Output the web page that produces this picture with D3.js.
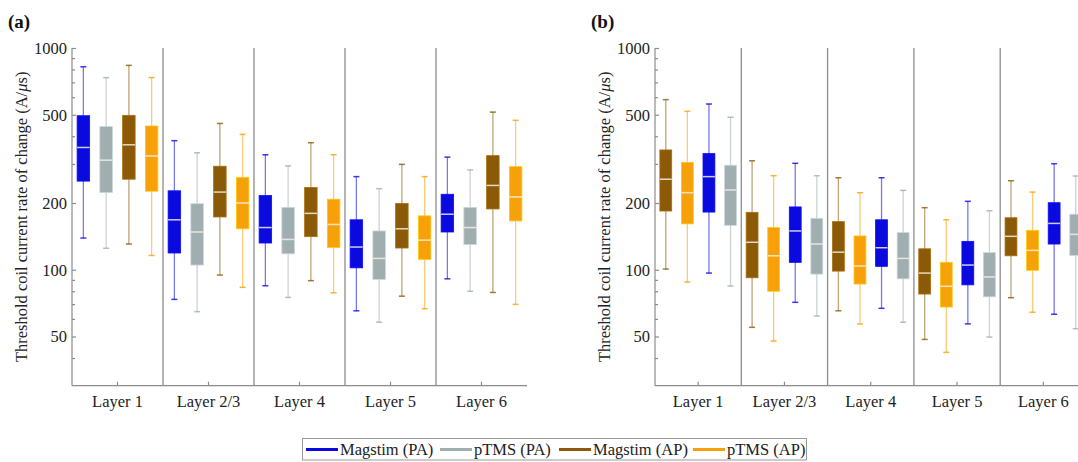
<!DOCTYPE html>
<html lang="en">
<head>
	<meta charset="utf-8">
	<title>Threshold coil current rate of change</title>
	<script src="https://cdn.jsdelivr.net/npm/d3@7"></script>
	<style>
		body { margin: 0; background: #fff; }
		svg { display: block; font-family: "Liberation Serif", "Times New Roman", serif; }
	</style>
</head>
<body>
	<script>
	// Layers on the x axis
	var layers = ["Layer 1", "Layer 2/3", "Layer 4", "Layer 5", "Layer 6"];
	var seriesNames = ["Magstim (PA)", "pTMS (PA)", "Magstim (AP)", "pTMS (AP)"];
	var seriesColors = ["#0a0ade", "#a0aeb0", "#8a5a08", "#f7a10a"];

	// y tick labels
	var majorTicks = [50, 100, 200, 500, 1000];
	var minorTicks = [40, 60, 70, 80, 90, 300, 400, 600, 700, 800, 900];

	// panel (a): per layer [whisker low, q1, median, q3, whisker high]
	var aMagstimPA = [[139, 251, 356, 495, 823], [73.5, 119, 168, 227, 382], [84.7, 132, 155, 216, 330], [65.3, 102, 126.6, 168, 263], [91, 148, 178, 219, 322]];
	var aPtmsPA    = [[125, 223, 312, 442, 735], [64.7, 105, 148, 198.5, 337], [75, 118, 137, 191, 294], [58, 90.5, 112.5, 149.6, 232], [80, 130, 155, 191, 282]];
	var aMagstimAP = [[130.6, 256, 366, 497, 835], [94.6, 173, 224, 293, 457], [89.3, 141, 179.6, 235, 374], [76, 125.3, 153, 199, 298.7], [79, 188, 240, 327, 514]];
	var aPtmsAP    = [[116, 226, 326, 445, 735], [83.3, 153, 200, 261, 408], [78.7, 126, 160, 208, 330], [66.7, 111.4, 136, 175, 263], [69.8, 166, 213, 291.6, 472]];

	// panel (b)
	var bMagstimAP = [[100.7, 184, 256, 347, 585], [55, 92, 133, 181.5, 310], [65.3, 98.6, 120, 164.8, 260], [48.5, 77.7, 96.6, 124.3, 190.5], [74.8, 115.6, 141.5, 171.6, 252]];
	var bPtmsAP    = [[88, 161, 222.6, 305, 518], [47.7, 80, 115.6, 155, 265.5], [56.9, 86.2, 104, 142, 222.6], [42.4, 67.9, 84.2, 108, 168], [64.3, 99.4, 122.3, 150.6, 224]];
	var bMagstimPA = [[96.6, 182, 263, 334, 559], [71.3, 108, 149.6, 192, 302], [67, 103.6, 125.7, 168, 260], [57, 85.5, 105, 134.3, 203.5], [63, 130.6, 161.8, 200.6, 300.8]];
	var bPtmsPA    = [[84.4, 158.6, 229, 296, 487], [61.8, 95.6, 130.6, 170.5, 265.5], [58, 91, 112.5, 147, 228], [49.7, 75.5, 92.8, 119.4, 184.6], [54.2, 116, 144.4, 178, 264.8]];

	var w = 1078, h = 462;
	var plotTop = 48, plotBottom = 385.7;

	var svg = d3.select("body").append("svg")
		.attr("width", w)
		.attr("height", h);

	var y = d3.scaleLog().domain([30, 1000]).range([plotBottom, plotTop]);

	function drawPanel(label, x0, x1, series) {
		var g = svg.append("g");
		var x = d3.scaleBand().domain(layers).range([x0, x1]);
		var inner = d3.scaleBand().domain(d3.range(series.length)).range([0, x.bandwidth()]);
		var bw = inner.bandwidth() * 0.55;
		var capW = 6;

		// layer separators
		g.selectAll(".sep").data(layers.slice(1)).enter().append("line")
			.attr("x1", function(d) { return x(d); })
			.attr("x2", function(d) { return x(d); })
			.attr("y1", plotTop).attr("y2", plotBottom)
			.attr("stroke", "#8c8c8c").attr("stroke-width", 1.3);

		series.forEach(function(s, si) {
			var col = seriesColors[s.c];
			var sg = g.append("g");
			var items = s.data.map(function(d, i) { return { v: d, cx: x(layers[i]) + inner(si) + inner.bandwidth() / 2 }; });

			// whiskers
			sg.selectAll(".wl").data(items).enter().append("line")
				.attr("x1", function(d) { return d.cx; }).attr("x2", function(d) { return d.cx; })
				.attr("y1", function(d) { return y(d.v[0]); }).attr("y2", function(d) { return y(d.v[4]); })
				.attr("stroke", col).attr("stroke-opacity", 0.55).attr("stroke-width", 1.3);
			// caps
			[0, 4].forEach(function(k) {
				sg.selectAll(".cap" + k).data(items).enter().append("line")
					.attr("x1", function(d) { return d.cx - capW / 2; }).attr("x2", function(d) { return d.cx + capW / 2; })
					.attr("y1", function(d) { return y(d.v[k]); }).attr("y2", function(d) { return y(d.v[k]); })
					.attr("stroke", col).attr("stroke-opacity", 0.8).attr("stroke-width", 1.5);
			});
			// boxes
			sg.selectAll("rect").data(items).enter().append("rect")
				.attr("x", function(d) { return d.cx - bw / 2; })
				.attr("width", bw)
				.attr("y", function(d) { return y(d.v[3]); })
				.attr("height", function(d) { return y(d.v[1]) - y(d.v[3]); })
				.attr("fill", col)
				.attr("stroke", d3.color(col).brighter(0.6)).attr("stroke-width", 0.8);
			// medians
			sg.selectAll(".med").data(items).enter().append("line")
				.attr("x1", function(d) { return d.cx - bw / 2; }).attr("x2", function(d) { return d.cx + bw / 2; })
				.attr("y1", function(d) { return y(d.v[2]); }).attr("y2", function(d) { return y(d.v[2]); })
				.attr("stroke", "#f4efe6").attr("stroke-opacity", 0.85).attr("stroke-width", 1.5);
		});

		// y axis
		var yAxis = g.append("g").attr("transform", "translate(" + x0 + ",0)")
			.call(d3.axisLeft(y).tickValues(majorTicks).tickFormat(d3.format("d")).tickSize(-4).tickPadding(5));
		g.append("g").attr("transform", "translate(" + x0 + ",0)")
			.call(d3.axisLeft(y).tickValues(minorTicks).tickFormat("").tickSize(-3))
			.select(".domain").remove();
		yAxis.select(".domain").attr("d", "M0," + plotTop + "V" + plotBottom);

		// x axis
		var xAxis = g.append("g").attr("transform", "translate(0," + plotBottom + ")")
			.call(d3.axisBottom(x).tickSize(-4).tickPadding(9.5));
		xAxis.select(".domain").attr("d", "M" + x0 + ",0H" + x1);

		g.selectAll(".tick text").attr("font-size", 16.5).attr("fill", "#222")
			.attr("font-family", "Liberation Serif");
		g.selectAll(".domain, .tick line").attr("stroke", "#8c8c8c").attr("stroke-width", 1.2);

		// y label
		var yl = g.append("text")
			.attr("transform", "translate(" + (x0 - 45) + "," + ((plotTop + plotBottom) / 2) + ") rotate(-90)")
			.attr("text-anchor", "middle")
			.attr("font-size", 16.5).attr("fill", "#222")
			.text("Threshold coil current rate of change (A/");
		yl.append("tspan").attr("font-style", "italic").text("\u03bc");
		yl.append("tspan").text("s)");

		// panel label
		svg.append("text")
			.attr("x", x0 - 64).attr("y", 28)
			.attr("font-size", 19).attr("font-weight", "bold").attr("fill", "#111")
			.text(label);
	}

	drawPanel("(a)", 72, 527, [
		{ c: 0, data: aMagstimPA }, { c: 1, data: aPtmsPA }, { c: 2, data: aMagstimAP }, { c: 3, data: aPtmsAP }
	]);
	drawPanel("(b)", 655, 1086.5, [
		{ c: 2, data: bMagstimAP }, { c: 3, data: bPtmsAP }, { c: 0, data: bMagstimPA }, { c: 1, data: bPtmsPA }
	]);

	// legend
	var legend = svg.append("g");
	legend.append("rect")
		.attr("x", 302.5).attr("y", 438.5).attr("width", 504).attr("height", 21.5)
		.attr("fill", "#fff").attr("stroke", "#999").attr("stroke-width", 1);
	var legendX = [306, 440, 559, 693];
	seriesNames.forEach(function(n, i) {
		legend.append("line")
			.attr("x1", legendX[i]).attr("x2", legendX[i] + 32)
			.attr("y1", 449.5).attr("y2", 449.5)
			.attr("stroke", seriesColors[i]).attr("stroke-width", 3);
		legend.append("text")
			.attr("x", legendX[i] + 34).attr("y", 455)
			.attr("font-size", 16.5).attr("fill", "#222")
			.text(n);
	});
	</script>
</body>
</html>
